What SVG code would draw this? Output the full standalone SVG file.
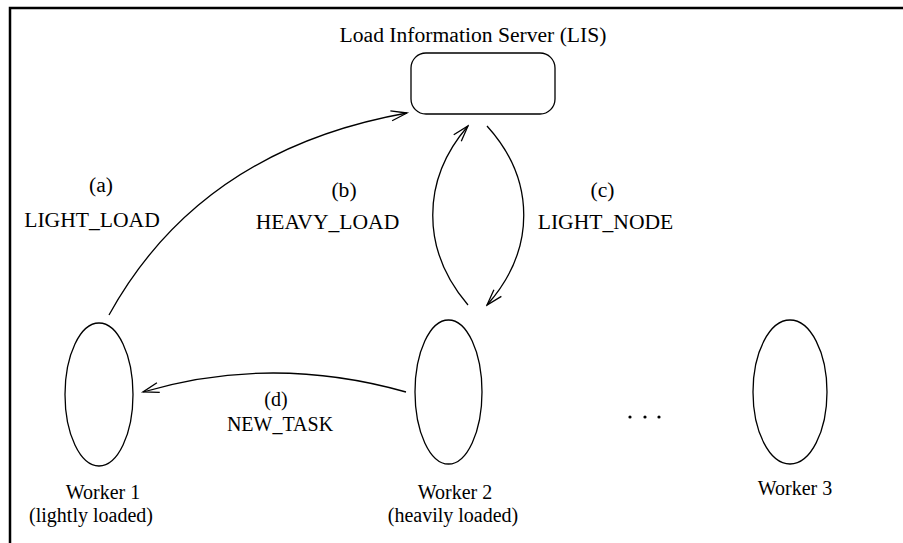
<svg xmlns="http://www.w3.org/2000/svg" width="903" height="543" viewBox="0 0 903 543">
  <style>
    .shape { fill: none; stroke: #000; stroke-width: 1.3; }
    .edge { fill: none; stroke: #000; stroke-width: 1.3; marker-end: url(#arrow); }
    .label { font-family: "Liberation Serif", "Times New Roman", serif; font-size: 20px; fill: #000; text-anchor: middle; }
    .big { font-size: 21.6px; }
  </style>
  <defs>
    <marker id="arrow" viewBox="-18 -7 20 14" refX="0" refY="0" markerWidth="20" markerHeight="14" markerUnits="userSpaceOnUse" orient="auto">
      <path d="M-16,-5 L0,0 L-16,5" fill="none" stroke="#000" stroke-width="1.3"/>
    </marker>
  </defs>
  <rect width="903" height="543" fill="#fff"/>
  <!-- frame (top and left edges) -->
  <path d="M10,543 L10,8 L903,8" fill="none" stroke="#000" stroke-width="2.5"/>

  <g id="lis">
    <text class="label big" x="473" y="42">Load Information Server (LIS)</text>
    <rect class="shape" x="411" y="53" width="144" height="61" rx="15" ry="15"/>
  </g>

  <g id="worker1">
    <ellipse class="shape" cx="99" cy="394.5" rx="34" ry="71.5"/>
    <text class="label" x="103" y="499">Worker 1</text>
    <text class="label" x="91" y="522">(lightly loaded)</text>
  </g>

  <g id="worker2">
    <ellipse class="shape" cx="448.5" cy="392" rx="33.5" ry="72"/>
    <text class="label" x="455" y="499">Worker 2</text>
    <text class="label" x="453" y="522">(heavily loaded)</text>
  </g>

  <g id="worker3">
    <ellipse class="shape" cx="790" cy="392" rx="37" ry="72"/>
    <text class="label" x="795" y="495">Worker 3</text>
  </g>

  <g id="ellipsis">
    <circle cx="630" cy="417" r="1.6" fill="#000"/>
    <circle cx="645" cy="417" r="1.6" fill="#000"/>
    <circle cx="659" cy="417" r="1.6" fill="#000"/>
  </g>

  <g id="connectors">
    <!-- (a) LIGHT_LOAD: worker 1 to LIS -->
    <path class="edge" d="M109,315 Q200,150 407,113"/>
    <!-- (b) HEAVY_LOAD: worker 2 to LIS -->
    <path class="edge" d="M468,305 C421,250 421,180 468,126"/>
    <!-- (c) LIGHT_NODE: LIS to worker 2 -->
    <path class="edge" d="M487,126 C536,180 536,250 487,305"/>
    <!-- (d) NEW_TASK: worker 2 to worker 1 -->
    <path class="edge" d="M406,392 Q272,354 143,392"/>
  </g>

  <g id="edge-labels">
    <text class="label big" x="101" y="192">(a)</text>
    <text class="label big" x="92" y="227">LIGHT_LOAD</text>
    <text class="label big" x="344" y="197">(b)</text>
    <text class="label big" x="327.5" y="229">HEAVY_LOAD</text>
    <text class="label big" x="602.5" y="197">(c)</text>
    <text class="label big" x="605.5" y="229">LIGHT_NODE</text>
    <text class="label" x="276" y="406">(d)</text>
    <text class="label" x="280" y="431">NEW_TASK</text>
  </g>
</svg>
